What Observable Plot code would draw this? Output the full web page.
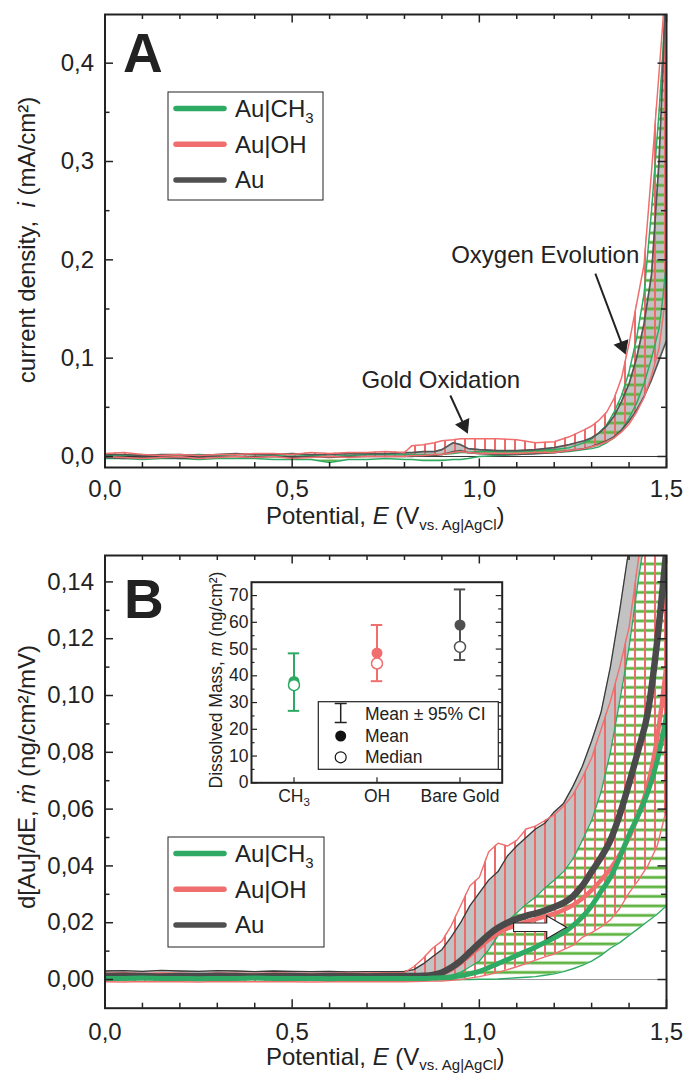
<!DOCTYPE html>
<html><head><meta charset="utf-8">
<script src="https://cdn.jsdelivr.net/npm/d3@7"></script>
<script src="https://cdn.jsdelivr.net/npm/@observablehq/plot@0.6"></script>
<style>
body{margin:0;background:#fff}
#page{position:relative;width:686px;height:1074px;overflow:hidden;background:#fff}
.panel{position:absolute;left:0}
</style></head><body>
<div id="page">
<svg width="0" height="0" style="position:absolute">
<defs>
<pattern id="hatchRed" patternUnits="userSpaceOnUse" width="10" height="10"><rect x="4" y="0" width="2" height="10" fill="#ee6b6b"/></pattern>
<pattern id="hatchGreen" patternUnits="userSpaceOnUse" width="10" height="9.5"><rect x="0" y="3.5" width="10" height="2.8" fill="#5db33f"/></pattern>
</defs></svg>
<div id="pa" class="panel" style="top:0"></div>
<div id="pb" class="panel" style="top:540px"></div>
<div id="pi" class="panel" style="left:190px;top:565px;width:320px"></div>
</div>
<script>
const FONT = "'Liberation Sans', Arial, Helvetica, sans-serif";
const INK = "#222";
const GREEN = "#2eaa64", RED = "#f06e6e", GRAY = "#505050", FILL = "#c2c2c2";

// ---------- Panel A data: current density (mA/cm²) vs potential (V) ----------
const E_A = [0.00,0.05,0.10,0.15,0.20,0.25,0.30,0.35,0.40,0.45,0.50,0.55,0.60,0.65,0.70,0.75,0.80,
  0.82,0.85,0.88,0.90,0.93,0.95,0.97,
  1.00,1.05,1.10,1.15,1.20,
  1.24,1.28,1.30,1.32,1.34,1.36,1.38,1.40,1.42,1.44,1.46,1.48,1.49,1.50];
const auHiA = [0.002,0.002,0.001,0.002,0.002,0.001,0.002,0.003,0.002,0.002,0.003,0.002,0.002,0.003,0.003,0.003,0.004,
  0.004,0.005,0.005,0.007,0.014,0.012,0.008,
  0.007,0.006,0.006,0.007,0.009,
  0.012,0.016,0.019,0.024,0.031,0.041,0.056,0.074,0.100,0.135,0.185,0.300,0.390,0.500];
const auLoA = [-0.001,-0.002,-0.001,-0.001,-0.002,-0.001,0.000,0.000,-0.001,0.000,-0.001,0.000,-0.001,0.000,0.000,0.000,0.000,
  0.000,0.001,0.001,0.002,0.005,0.006,0.004,
  0.003,0.002,0.002,0.003,0.004,
  0.006,0.008,0.010,0.013,0.016,0.020,0.027,0.036,0.047,0.061,0.078,0.098,0.108,0.118];
const ohHiA = [0.003,0.004,0.002,0.001,0.002,0.001,0.002,0.002,0.003,0.003,0.002,0.004,0.003,0.004,0.004,0.005,0.004,
  0.011,0.012,0.014,0.016,0.017,0.018,0.018,
  0.018,0.018,0.017,0.014,0.015,
  0.020,0.027,0.031,0.037,0.045,0.059,0.080,0.115,0.155,0.195,0.290,0.390,0.440,0.500];
const ohLoA = [0.000,-0.001,-0.002,-0.001,0.000,-0.002,-0.001,0.000,-0.001,0.000,-0.002,-0.001,0.000,-0.001,0.000,0.000,0.000,
  0.001,0.001,0.002,0.002,0.004,0.005,0.004,
  0.003,0.003,0.003,0.004,0.004,
  0.006,0.008,0.010,0.012,0.015,0.019,0.025,0.033,0.045,0.060,0.082,0.110,0.140,0.170];
const chHiA = [0.001,0.001,0.002,0.001,0.001,0.002,0.001,0.002,0.002,0.001,0.002,0.001,0.000,0.001,0.002,0.002,0.002,
  0.002,0.002,0.002,0.002,0.003,0.004,0.004,
  0.005,0.005,0.005,0.006,0.007,
  0.009,0.014,0.018,0.024,0.032,0.045,0.062,0.086,0.120,0.165,0.250,0.350,0.410,0.480];
const chLoA = [-0.002,-0.002,-0.003,-0.002,-0.002,-0.003,-0.002,-0.002,-0.002,-0.003,-0.003,-0.003,-0.006,-0.003,-0.003,-0.002,-0.003,
  -0.003,-0.004,-0.004,-0.004,-0.003,-0.003,-0.002,
  0.000,0.001,0.002,0.003,0.004,
  0.005,0.007,0.008,0.010,0.014,0.019,0.027,0.039,0.054,0.074,0.100,0.130,0.160,0.200];

// ---------- Panel B data: d[Au]/dE (ng/cm²/mV) vs potential (V) ----------
const E_B = [0.00,0.05,0.10,0.15,0.20,0.25,0.30,0.35,0.40,0.45,0.50,0.55,0.60,0.65,0.70,0.75,0.80,
  0.825,0.85,0.875,0.90,0.925,0.95,0.975,1.00,
  1.025,1.05,1.075,1.10,1.125,1.15,1.175,1.20,
  1.225,1.25,1.275,1.30,1.325,1.35,1.375,1.40,
  1.425,1.45,1.475,1.50];
const auMeanB = [0.0012,0.0013,0.0012,0.0011,0.0012,0.0012,0.0013,0.0012,0.0011,0.0012,0.0012,0.0011,0.0012,0.0012,0.0011,0.0012,0.0012,
  0.0012,0.0013,0.0016,0.0025,0.0042,0.0066,0.0097,0.0128,
  0.0158,0.0182,0.0200,0.0213,0.0224,0.0233,0.0243,0.0255,
  0.0270,0.0293,0.0330,0.0380,0.0430,0.0490,0.0580,0.0690,
  0.0810,0.0940,0.1190,0.1520];
const auHiB = [0.0030,0.0031,0.0029,0.0032,0.0030,0.0029,0.0031,0.0030,0.0028,0.0030,0.0029,0.0028,0.0029,0.0027,0.0028,0.0028,0.0029,
  0.0035,0.0055,0.0080,0.0105,0.0150,0.0200,0.0260,0.0305,
  0.0350,0.0380,0.0435,0.0470,0.0500,0.0530,0.0550,0.0590,
  0.0620,0.0680,0.0750,0.0840,0.0940,0.1100,0.1300,0.1520,
  0.1750,0.2000,0.2200,0.2400];
const auLoB = [0.0008,0.0007,0.0008,0.0009,0.0008,0.0007,0.0008,0.0008,0.0009,0.0008,0.0007,0.0008,0.0008,0.0007,0.0008,0.0008,0.0008,
  0.0008,0.0008,0.0008,0.0009,0.0015,0.0025,0.0045,0.0065,
  0.0105,0.0155,0.0205,0.0235,0.0265,0.0290,0.0322,0.0350,
  0.0380,0.0425,0.0490,0.0560,0.0660,0.0800,0.0980,0.1170,
  0.1410,0.1620,0.1850,0.2100];
const chMeanB = [0.0004,0.0004,0.0005,0.0004,0.0004,0.0003,0.0004,0.0004,0.0005,0.0004,0.0004,0.0004,0.0003,0.0004,0.0004,0.0004,0.0004,
  0.0004,0.0004,0.0005,0.0006,0.0009,0.0013,0.0020,0.0029,
  0.0042,0.0056,0.0070,0.0085,0.0099,0.0114,0.0130,0.0147,
  0.0165,0.0190,0.0220,0.0260,0.0310,0.0360,0.0430,0.0510,
  0.0580,0.0660,0.0770,0.0930];
const chHiB = [0.0008,0.0007,0.0008,0.0009,0.0008,0.0007,0.0008,0.0008,0.0009,0.0008,0.0007,0.0008,0.0008,0.0007,0.0008,0.0008,0.0008,
  0.0008,0.0008,0.0008,0.0009,0.0015,0.0025,0.0045,0.0065,
  0.0105,0.0155,0.0205,0.0235,0.0265,0.0290,0.0322,0.0350,
  0.0380,0.0425,0.0490,0.0560,0.0660,0.0800,0.0980,0.1170,
  0.1410,0.1620,0.1850,0.2100];
const chLoB = [0.0000,-0.0001,0.0000,0.0001,0.0000,-0.0001,0.0000,0.0000,0.0001,0.0000,-0.0001,0.0000,0.0000,0.0001,0.0000,0.0000,0.0000,
  0.0000,0.0000,0.0000,0.0000,0.0000,0.0000,0.0000,0.0001,
  0.0001,0.0002,0.0004,0.0006,0.0008,0.0010,0.0015,0.0020,
  0.0028,0.0038,0.0050,0.0065,0.0085,0.0110,0.0130,0.0155,
  0.0180,0.0205,0.0230,0.0260];
const ohMeanB = [0.0008,0.0008,0.0007,0.0008,0.0008,0.0009,0.0008,0.0008,0.0007,0.0008,0.0008,0.0008,0.0007,0.0008,0.0008,0.0008,0.0008,
  0.0008,0.0009,0.0012,0.0020,0.0035,0.0058,0.0085,0.0113,
  0.0140,0.0163,0.0180,0.0192,0.0203,0.0212,0.0222,0.0232,
  0.0245,0.0262,0.0285,0.0315,0.0350,0.0390,0.0440,0.0500,
  0.0580,0.0685,0.0850,0.1110];
const ohHiB = [0.0022,0.0024,0.0021,0.0023,0.0022,0.0020,0.0023,0.0022,0.0021,0.0023,0.0022,0.0021,0.0022,0.0023,0.0022,0.0024,0.0025,
  0.0045,0.0075,0.0110,0.0135,0.0190,0.0260,0.0330,0.0360,
  0.0450,0.0480,0.0470,0.0490,0.0530,0.0540,0.0560,0.0580,
  0.0610,0.0650,0.0710,0.0780,0.0880,0.0980,0.1100,0.1240,
  0.1480,0.1700,0.1900,0.2100];
const ohLoB = [-0.0008,-0.0009,-0.0007,-0.0008,-0.0008,-0.0009,-0.0007,-0.0008,-0.0008,-0.0007,-0.0008,-0.0009,-0.0008,-0.0007,-0.0008,-0.0008,-0.0008,
  -0.0007,-0.0006,-0.0005,-0.0005,-0.0003,0.0000,0.0005,0.0010,
  0.0017,0.0025,0.0035,0.0045,0.0056,0.0068,0.0080,0.0090,
  0.0105,0.0120,0.0148,0.0165,0.0185,0.0210,0.0250,0.0305,
  0.0350,0.0400,0.0470,0.0600];

// ---------- Inset data: dissolved mass (ng/cm²) ----------
const insetCats = ["CH3", "OH", "Bare Gold"];
const insetColors = [GREEN, RED, GRAY];
const insetMean = [37.9, 48.5, 59.0];
const insetMedian = [36.5, 44.6, 50.8];
const insetLo = [26.9, 38.0, 45.9];
const insetHi = [48.4, 59.0, 72.3];

// ---------- ticks ----------
const xMajor = [0, 0.5, 1.0, 1.5];
const xMinor = [0.1,0.2,0.3,0.4,0.6,0.7,0.8,0.9,1.1,1.2,1.3,1.4];
const yMajorA = [0, 0.1, 0.2, 0.3, 0.4];
const yMinorA = [0.05, 0.15, 0.25, 0.35];
const yMajorB = [0, 0.02, 0.04, 0.06, 0.08, 0.10, 0.12, 0.14];
const yMinorB = [0.01, 0.03, 0.05, 0.07, 0.09, 0.11, 0.13];
const yMajorI = [0, 10, 20, 30, 40, 50, 60, 70];
const yMinorI = [5, 15, 25, 35, 45, 55, 65];

// ---------- annotations ----------
const notesA = [{label: "Oxygen Evolution", E: 1.176, v: 0.2045}, {label: "Gold Oxidation", E: 0.897, v: 0.0773}];
// arrow shafts (start -> head centre) and head direction (degrees, clockwise from up)
const arrowsA = [
  {E1: 1.310, v1: 0.186, Eh: 1.3826, vh: 0.1122, angle: 159.4},
  {E1: 0.9225, v1: 0.062, Eh: 0.9592, vh: 0.0316, angle: 155.3}
];
const shiftArrow = [{E1: 1.090, E1w: 1.093, E2: 1.180, E2w: 1.184, Ehead: 1.1976, v: 0.0184}];

const rowsA = E_A.map((E, i) => ({E, auLo: auLoA[i], auHi: auHiA[i], ohLo: ohLoA[i], ohHi: ohHiA[i], chLo: chLoA[i], chHi: chHiA[i]}));
const rowsB = E_B.map((E, i) => ({E, auLo: auLoB[i], auHi: auHiB[i], auMean: auMeanB[i], ohLo: ohLoB[i], ohHi: ohHiB[i], ohMean: ohMeanB[i], chLo: chLoB[i], chHi: chHiB[i], chMean: chMeanB[i]}));
const insetRows = insetCats.map((cat, i) => ({cat, color: insetColors[i], mean: insetMean[i], median: insetMedian[i], lo: insetLo[i], hi: insetHi[i]}));

const fmt = n => d => d.toFixed(n).replace(".", ",");

function frameTicks(xMaj, xMin, yMaj, yMin, fw, fh, maj, min, sw) {
  const o = {stroke: INK, strokeWidth: sw};
  const m = [];
  if (xMaj) m.push(Plot.tickX(xMaj, {...o, insetTop: fh - maj}), Plot.tickX(xMaj, {...o, insetBottom: fh - maj}));
  if (xMin) m.push(Plot.tickX(xMin, {...o, insetTop: fh - min}), Plot.tickX(xMin, {...o, insetBottom: fh - min}));
  if (yMaj) m.push(Plot.tickY(yMaj, {...o, insetRight: fw - maj}), Plot.tickY(yMaj, {...o, insetLeft: fw - maj}));
  if (yMin) m.push(Plot.tickY(yMin, {...o, insetRight: fw - min}), Plot.tickY(yMin, {...o, insetLeft: fw - min}));
  return m;
}

function rich(svg, x, y, parts, o = {}) {
  const t = svg.append("text")
    .attr("transform", `translate(${x},${y}) rotate(${o.rotate || 0})`)
    .attr("text-anchor", o.anchor || "start")
    .attr("font-family", FONT).attr("font-size", o.size || 24)
    .attr("font-weight", o.weight || "normal")
    .attr("fill", INK).style("white-space", "pre");
  let shift = 0;
  for (const p of parts) {
    const s = typeof p === "string" ? {t: p} : p;
    const ts = t.append("tspan").text(s.t);
    if (s.i) ts.attr("font-style", "italic");
    if (s.sub) {
      ts.attr("font-size", s.sub).attr("dy", s.dy);
      shift = s.dy;
    } else if (shift) {
      ts.attr("dy", -shift);
      shift = 0;
    }
  }
  return t;
}

function legend(svg, x0, y0, w, h, rows) {
  svg.append("rect").attr("x", x0).attr("y", y0).attr("width", w).attr("height", h)
    .attr("fill", "white").attr("stroke", INK).attr("stroke-width", 1);
  rows.forEach((r, k) => {
    const yy = y0 + 16.5 + k * 35.7;
    svg.append("line").attr("x1", x0 + 8).attr("x2", x0 + 56).attr("y1", yy).attr("y2", yy)
      .attr("stroke", r.color).attr("stroke-width", 5.5).attr("stroke-linecap", "round");
    const parts = [r.label];
    if (r.sub) parts.push({t: r.sub, sub: 15, dy: 6});
    rich(svg, x0 + 67, yy + 8.5, parts, {size: 24});
  });
}

const legendRows = [{label: "Au|CH", sub: "3", color: GREEN}, {label: "Au|OH", color: RED}, {label: "Au", color: GRAY}];

// ================= Panel A =================
const FW = 561.5, FHA = 453;
const plotA = Plot.plot({
  width: 686, height: 540, marginLeft: 104.5, marginRight: 20, marginTop: 14, marginBottom: 73,
  x: {domain: [0, 1.5], label: null},
  y: {domain: [-0.0112, 0.4495], label: null},
  style: {fontFamily: FONT, fontSize: "24px", color: INK, background: "transparent", overflow: "visible"},
  marks: [
    Plot.areaY(rowsA, {x: "E", y1: "auLo", y2: "auHi", fill: FILL, clip: true}),
    Plot.areaY(rowsA, {x: "E", y1: "chLo", y2: "chHi", fill: "url(#hatchGreen)", clip: true}),
    Plot.areaY(rowsA, {x: "E", y1: "ohLo", y2: "ohHi", fill: "url(#hatchRed)", clip: true}),
    Plot.ruleY([0], {stroke: "#333", strokeWidth: 1}),
    Plot.line(rowsA, {x: "E", y: "chLo", stroke: GREEN, strokeWidth: 1.5, clip: true}),
    Plot.line(rowsA, {x: "E", y: "chHi", stroke: GREEN, strokeWidth: 1.5, clip: true}),
    Plot.line(rowsA, {x: "E", y: "auLo", stroke: "#555", strokeWidth: 1.7, clip: true}),
    Plot.line(rowsA, {x: "E", y: "auHi", stroke: "#555", strokeWidth: 1.7, clip: true}),
    Plot.line(rowsA, {x: "E", y: "ohLo", stroke: RED, strokeWidth: 1.5, clip: true}),
    Plot.line(rowsA, {x: "E", y: "ohHi", stroke: RED, strokeWidth: 1.5, clip: true}),
    Plot.text(notesA, {x: "E", y: "v", text: "label", fontSize: 24, fill: INK}),
    Plot.link(arrowsA, {x1: "E1", y1: "v1", x2: "Eh", y2: "vh", stroke: INK, strokeWidth: 2}),
    Plot.dot(arrowsA, {x: "Eh", y: "vh", symbol: "triangle", r: 5.2, rotate: "angle", fill: INK, stroke: INK, strokeWidth: 1}),
    ...frameTicks(xMajor, xMinor, yMajorA, yMinorA, FW, FHA, 8.5, 5, 1.5),
    Plot.axisX({ticks: xMajor, tickSize: 0, tickPadding: 12, tickFormat: fmt(1), label: null}),
    Plot.axisY({ticks: yMajorA, tickSize: 0, tickPadding: 11, tickFormat: fmt(1), label: null}),
    Plot.frame({stroke: INK, strokeWidth: 2})
  ]
});
document.getElementById("pa").append(plotA);
{
  const s = d3.select(plotA);
  rich(s, 123, 72, ["A"], {size: 55, weight: "bold"});
  rich(s, 35, 240, ["current density,  ", {t: "i", i: true}, " (mA/cm²)"], {anchor: "middle", rotate: -90});
  rich(s, 385.25, 524, ["Potential, ", {t: "E", i: true}, " (V", {t: "vs. Ag|AgCl", sub: 15, dy: 6}, ")"], {anchor: "middle"});
  legend(s, 168, 92, 155, 108, legendRows);
}

// ================= Panel B =================
const FHB = 452.7;
const plotB = Plot.plot({
  width: 686, height: 534, marginLeft: 104.5, marginRight: 20, marginTop: 15, marginBottom: 66.3,
  x: {domain: [0, 1.5], label: null},
  y: {domain: [-0.0101, 0.1493], label: null},
  style: {fontFamily: FONT, fontSize: "24px", color: INK, background: "transparent", overflow: "visible"},
  marks: [
    Plot.areaY(rowsB, {x: "E", y1: "auLo", y2: "auHi", fill: FILL, clip: true}),
    Plot.areaY(rowsB, {x: "E", y1: "chLo", y2: "chHi", fill: "url(#hatchGreen)", clip: true}),
    Plot.areaY(rowsB, {x: "E", y1: "ohLo", y2: "ohHi", fill: "url(#hatchRed)", clip: true}),
    Plot.ruleY([0], {stroke: "#999", strokeWidth: 1}),
    Plot.line(rowsB, {x: "E", y: "auHi", stroke: "#3a3a3a", strokeWidth: 1.3, clip: true}),
    Plot.line(rowsB, {x: "E", y: "chHi", stroke: GREEN, strokeWidth: 1.4, clip: true}),
    Plot.line(rowsB, {x: "E", y: "chLo", stroke: GREEN, strokeWidth: 1.4, clip: true}),
    Plot.line(rowsB, {x: "E", y: "ohHi", stroke: RED, strokeWidth: 1.4, clip: true}),
    Plot.line(rowsB, {x: "E", y: "ohLo", stroke: RED, strokeWidth: 1.4, clip: true}),
    Plot.line(rowsB, {x: "E", y: "ohMean", stroke: RED, strokeWidth: 4.5, curve: "monotone-x", clip: true}),
    Plot.line(rowsB, {x: "E", y: "auMean", stroke: "#4a4a4a", strokeWidth: 6.5, curve: "monotone-x", clip: true}),
    Plot.line(rowsB, {x: "E", y: "chMean", stroke: GREEN, strokeWidth: 5, curve: "monotone-x", clip: true}),
    Plot.link(shiftArrow, {x1: "E1", x2: "E2", y1: "v", y2: "v", stroke: INK, strokeWidth: 9.5}),
    Plot.dot(shiftArrow, {x: "Ehead", y: "v", symbol: "triangle", r: 8.5, rotate: 90, fill: "white", stroke: INK, strokeWidth: 1.2}),
    Plot.link(shiftArrow, {x1: "E1w", x2: "E2w", y1: "v", y2: "v", stroke: "white", strokeWidth: 7.3}),
    ...frameTicks(xMajor, xMinor, yMajorB, yMinorB, FW, FHB, 8.5, 5, 1.5),
    Plot.axisX({ticks: xMajor, tickSize: 0, tickPadding: 15, tickFormat: fmt(1), label: null}),
    Plot.axisY({ticks: yMajorB, tickSize: 0, tickPadding: 11, tickFormat: fmt(2), label: null}),
    Plot.frame({stroke: INK, strokeWidth: 2})
  ]
});
document.getElementById("pb").append(plotB);
{
  const s = d3.select(plotB);
  rich(s, 124, 78, ["B"], {size: 55, weight: "bold"});
  rich(s, 35, 237, ["d[Au]/dE, ", {t: "ṁ", i: true}, " (ng/cm²/mV)"], {anchor: "middle", rotate: -90});
  rich(s, 385.25, 525, ["Potential, ", {t: "E", i: true}, " (V", {t: "vs. Ag|AgCl", sub: 15, dy: 5}, ")"], {anchor: "middle"});
  legend(s, 168, 297, 156, 110, legendRows);
}

// ================= Inset =================
const IW = 250.7, IH = 200.6;
const capInset = (IW / 3 - 12) / 2;
const plotI = Plot.plot({
  width: 320, height: 250, marginLeft: 61, marginRight: 8.3, marginTop: 16.7, marginBottom: 32.7,
  x: {type: "band", domain: insetCats, padding: 0, label: null},
  y: {domain: [0, 75], label: null},
  color: {type: "identity"},
  style: {fontFamily: FONT, fontSize: "17.5px", color: INK, background: "transparent", overflow: "visible"},
  marks: [
    Plot.frame({fill: "white"}),
    Plot.ruleX(insetRows, {x: "cat", y1: "lo", y2: "hi", stroke: "color", strokeWidth: 2}),
    Plot.tickY(insetRows, {x: "cat", y: "lo", stroke: "color", strokeWidth: 2, insetLeft: capInset, insetRight: capInset}),
    Plot.tickY(insetRows, {x: "cat", y: "hi", stroke: "color", strokeWidth: 2, insetLeft: capInset, insetRight: capInset}),
    Plot.dot(insetRows, {x: "cat", y: "mean", r: 5.5, fill: "color"}),
    Plot.dot(insetRows, {x: "cat", y: "median", r: 5.5, fill: "white", stroke: "color", strokeWidth: 1.5}),
    ...frameTicks(null, null, yMajorI, yMinorI, IW, IH, 6, 3.5, 1.2),
    Plot.tickX(insetCats, {stroke: INK, strokeWidth: 1.2, insetTop: IH - 5}),
    Plot.axisY({ticks: yMajorI, tickSize: 0, tickPadding: 3, label: null}),
    Plot.axisX({ticks: insetCats, tickSize: 0, tickPadding: 7, label: null}),
    Plot.frame({stroke: INK, strokeWidth: 2})
  ]
});
document.getElementById("pi").append(plotI);
{
  const s = d3.select(plotI);
  s.selectAll("text").filter(function () { return this.textContent === "CH3"; }).each(function () {
    const t = d3.select(this);
    t.text("CH");
    t.append("tspan").attr("font-size", 11.5).attr("dy", 4).text("3");
  });
  rich(s, 32, 115, ["Dissolved Mass, ", {t: "m", i: true}, " (ng/cm²)"], {anchor: "middle", rotate: -90, size: 17.5});
  s.append("rect").attr("x", 128.3).attr("y", 136.7).attr("width", 180).attr("height", 67.6)
    .attr("fill", "white").attr("stroke", INK).attr("stroke-width", 1.2);
  const ex = 150.7;
  s.append("line").attr("x1", ex).attr("x2", ex).attr("y1", 138.5).attr("y2", 157.5).attr("stroke", INK).attr("stroke-width", 1.5);
  s.append("line").attr("x1", ex - 6).attr("x2", ex + 6).attr("y1", 138.5).attr("y2", 138.5).attr("stroke", INK).attr("stroke-width", 1.5);
  s.append("line").attr("x1", ex - 6).attr("x2", ex + 6).attr("y1", 157.5).attr("y2", 157.5).attr("stroke", INK).attr("stroke-width", 1.5);
  s.append("circle").attr("cx", ex).attr("cy", 171).attr("r", 5.5).attr("fill", "#111");
  s.append("circle").attr("cx", ex).attr("cy", 192.3).attr("r", 5.5).attr("fill", "white").attr("stroke", "#111").attr("stroke-width", 1.2);
  rich(s, 175, 155, ["Mean ± 95% CI"], {size: 17.5});
  rich(s, 175, 176.7, ["Mean"], {size: 17.5});
  rich(s, 175, 197.7, ["Median"], {size: 17.5});
}
</script>
</body></html>
